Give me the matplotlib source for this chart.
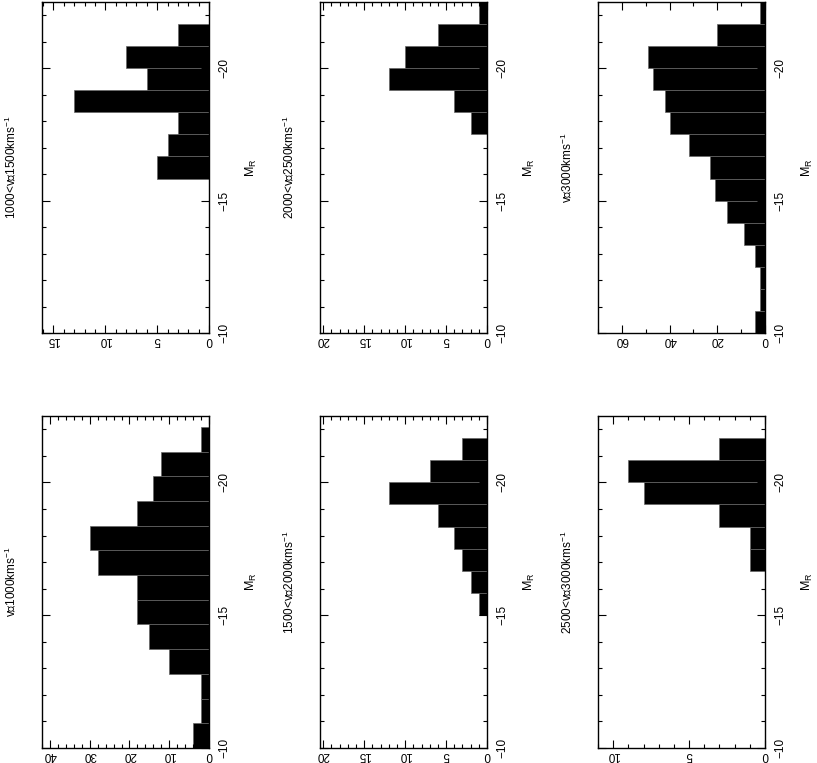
import matplotlib

matplotlib.use("Agg")
import matplotlib.pyplot as plt
import numpy as np
from matplotlib.ticker import MultipleLocator

plt.rcParams["font.family"] = ["Liberation Sans", "DejaVu Sans"]

# M_R bin edges (the v<=1000 sample uses its own, wider bins)
MAG_EDGES = [-10.0, -10.83, -11.67, -12.5, -13.33, -14.17, -15.0, -15.83,
             -16.67, -17.5, -18.33, -19.17, -20.0, -20.83, -21.67, -22.5]
MAG_EDGES_V1000 = [-10.0, -10.93, -11.86, -12.79, -13.72, -14.65, -15.58,
                   -16.51, -17.44, -18.37, -19.3, -20.23, -21.16, -22.09]

LABELS = [
    r"1000<v≦1500kms$^{\mathregular{-1}}$",
    r"v≦1000kms$^{\mathregular{-1}}$",
    r"2000<v≦2500kms$^{\mathregular{-1}}$",
    r"1500<v≦2000kms$^{\mathregular{-1}}$",
    r"v≦3000kms$^{\mathregular{-1}}$",
    r"2500<v≦3000kms$^{\mathregular{-1}}$",
]

counts_1000_1500 = [0, 0, 0, 0, 0, 0, 0, 5, 4, 3, 13, 6, 8, 3, 0]
counts_le_1000 = [4, 2, 2, 10, 15, 18, 18, 28, 30, 18, 14, 12, 2]
counts_2000_2500 = [0, 0, 0, 0, 0, 0, 0, 0, 0, 2, 4, 12, 10, 6, 1]
counts_1500_2000 = [0, 0, 0, 0, 0, 0, 1, 2, 3, 4, 6, 12, 7, 3, 0]
counts_le_3000 = [4, 2, 2, 4, 9, 16, 21, 23, 32, 40, 42, 47, 49, 20, 2]
counts_2500_3000 = [0, 0, 0, 0, 0, 0, 0, 0, 1, 1, 3, 8, 9, 3, 0]

COUNTS = [counts_1000_1500, counts_le_1000, counts_2000_2500,
          counts_1500_2000, counts_le_3000, counts_2500_3000]
EDGES = [MAG_EDGES, MAG_EDGES_V1000, MAG_EDGES, MAG_EDGES, MAG_EDGES, MAG_EDGES]
COUNT_MAX = [16.1, 42, 20.4, 20.4, 70, 11]
COUNT_MAJOR = [5, 10, 5, 5, 20, 5]
COUNT_MINOR = [1, 2, 1, 1, 10, 1]

W, H = 817, 763
fig = plt.figure(figsize=(W / 100, H / 100), dpi=100)

col_left = [42, 320, 598]
row_top = [2, 416]
row_bottom = [333, 748]
panel_w = 167

for idx in range(6):
    col, row = divmod(idx, 2)
    x0 = col_left[col]
    y_top, y_bot = row_top[row], row_bottom[row]
    ax = fig.add_axes([x0 / W, 1 - y_bot / H, panel_w / W, (y_bot - y_top) / H])

    edges = np.array(EDGES[idx])
    ax.barh(edges[:-1], COUNTS[idx], height=np.diff(edges), align="edge",
            color="black", edgecolor="0.4", linewidth=0.5)
    ax.set_xlim(COUNT_MAX[idx], 0)
    ax.set_ylim(-10, -22.5)

    ax.xaxis.set_major_locator(MultipleLocator(COUNT_MAJOR[idx]))
    ax.xaxis.set_minor_locator(MultipleLocator(COUNT_MINOR[idx]))
    ax.yaxis.set_major_locator(MultipleLocator(5))
    ax.yaxis.set_minor_locator(MultipleLocator(1))

    ax.tick_params(which="both", direction="in", top=True, right=True,
                   left=True, bottom=True, width=0.8, colors="black")
    ax.tick_params(which="major", length=6)
    ax.tick_params(which="minor", length=3)
    ax.tick_params(axis="y", labelleft=False, labelright=True, pad=7, labelsize=8.5)
    ax.tick_params(axis="x", labelbottom=True, pad=1, labelsize=8.5, labelrotation=180)
    for tick in ax.yaxis.get_major_ticks():
        tick.label2.set_rotation(90)
        tick.label2.set_va("center")
        tick.label2.set_ha("left")
    for sp in ax.spines.values():
        sp.set_linewidth(1.0)

    yc = 1 - (y_top + y_bot) / 2 / H
    fig.text((x0 - 31) / W, yc, LABELS[idx], rotation=90, ha="center", va="center", fontsize=8.5)
    fig.text((x0 + panel_w + 42) / W, yc, r"M$_{\mathregular{R}}$", rotation=90,
             ha="center", va="center", fontsize=9)

fig.savefig("out.png", dpi=100)
